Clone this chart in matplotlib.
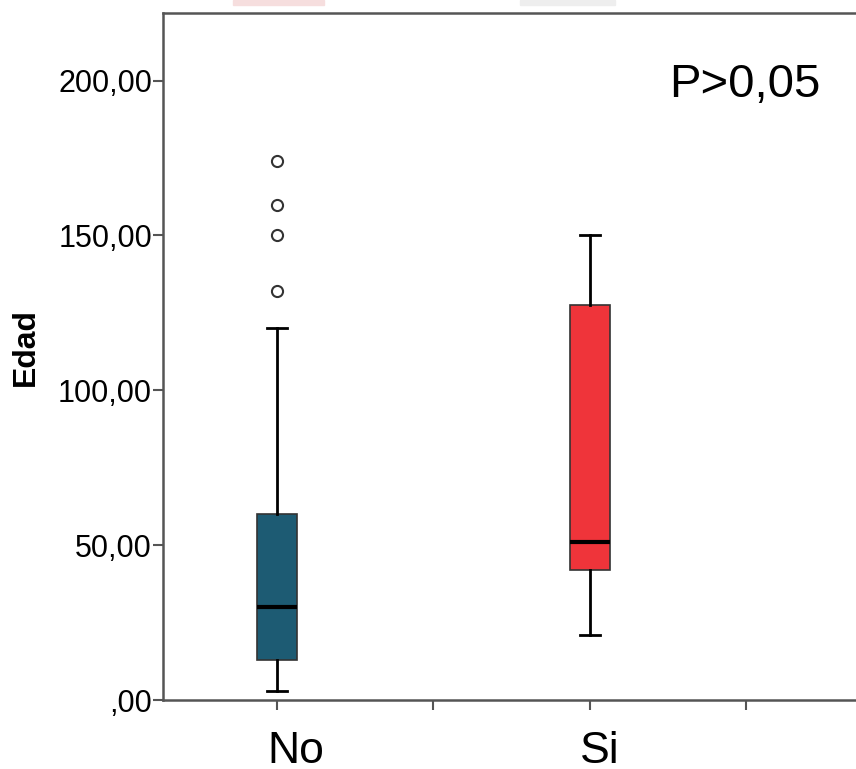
import matplotlib
matplotlib.use("Agg")
import matplotlib.pyplot as plt
import matplotlib.transforms as mtransforms
from matplotlib.patches import Rectangle

plt.rcParams['font.family'] = ['Liberation Sans', 'DejaVu Sans']

# box stats
groups = ["No", "Si"]
q1 = [13, 42]
medians = [30, 51]
q3 = [60, 127.5]
whis_lo = [3, 21]
whis_hi = [120, 150]
outliers = [[132, 150, 160, 174], []]
box_colors = ["#1d5b73", "#ef343a"]

yticks = [0, 50, 100, 150, 200]
ytick_labels = [",00", "50,00", "100,00", "150,00", "200,00"]

fig = plt.figure(figsize=(8.56, 7.69), dpi=100)
ax = fig.add_axes([163 / 856, 69 / 769, 1 - 163 / 856, (700 - 12.5) / 769])

stats = []
for i, g in enumerate(groups):
    stats.append(dict(label=g, q1=q1[i], med=medians[i], q3=q3[i],
                      whislo=whis_lo[i], whishi=whis_hi[i], fliers=outliers[i]))

pos = [1, 2]
bp = ax.bxp(stats, positions=pos, widths=0.128, patch_artist=True, showfliers=True,
            boxprops=dict(edgecolor="#333333", linewidth=1.2),
            medianprops=dict(color="black", linewidth=3),
            whiskerprops=dict(color="black", linewidth=2),
            capprops=dict(color="black", linewidth=2),
            flierprops=dict(marker="o", markersize=8, markerfacecolor="white",
                            markeredgecolor="#333333", markeredgewidth=1.5))
for patch, c in zip(bp["boxes"], box_colors):
    patch.set_facecolor(c)

ax.set_xlim(0.636, 2.85)
ax.set_ylim(0, 222)

ax.set_xticks([1, 1.5, 2, 2.5])
ax.set_xticklabels(["No", "", "Si", ""], fontsize=32)
ax.set_yticks(yticks)
ax.set_yticklabels(ytick_labels, fontsize=22)
ax.tick_params(axis="y", length=7, width=1.5, color="#555555", pad=1)
ax.tick_params(axis="x", length=7, width=1.5, color="#555555", pad=15)

# category labels sit left-aligned just left of their tick
shift = mtransforms.ScaledTranslation(-10 / 100, 0, fig.dpi_scale_trans)
for lbl in ax.get_xticklabels():
    lbl.set_horizontalalignment("left")
    lbl.set_transform(lbl.get_transform() + shift)

for s in ["left", "bottom", "top"]:
    ax.spines[s].set_color("#555555")
    ax.spines[s].set_linewidth(1.8)
ax.spines["right"].set_visible(False)

ax.set_ylabel("Edad", fontsize=23, fontweight="bold")
ax.yaxis.set_label_coords(-0.176, 0.514)

ax.text(2.735, 194.7, "P>0,05", fontsize=34, ha="right", va="baseline")

# remnants of a cropped legend at the very top
fig.patches.append(Rectangle((233 / 856, 1 - 5 / 769), 91 / 856, 5 / 769,
                             transform=fig.transFigure, color="#f6dede", zorder=0))
fig.patches.append(Rectangle((520 / 856, 1 - 5 / 769), 95 / 856, 5 / 769,
                             transform=fig.transFigure, color="#eeeeee", zorder=0))

fig.savefig("out.png", dpi=100)
